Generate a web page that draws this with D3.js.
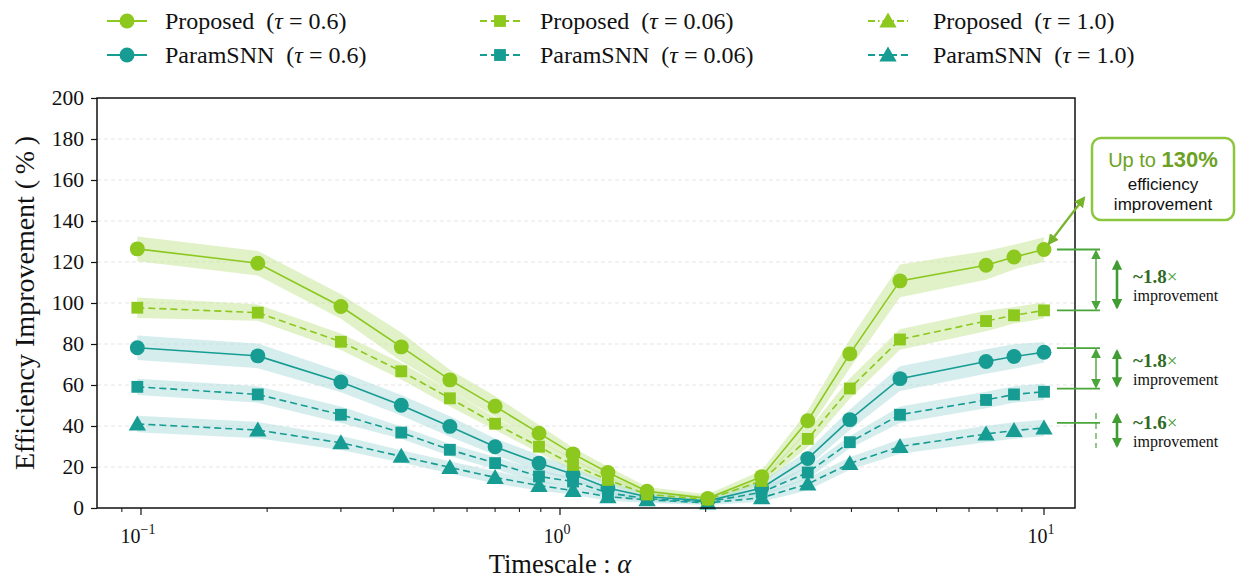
<!DOCTYPE html>
<html>
<head>
<meta charset="utf-8">
<script src="https://cdn.jsdelivr.net/npm/d3@7"></script>
<style>
  html, body { margin: 0; padding: 0; background: #fff; }
  svg { display: block; }
</style>
</head>
<body>
<div id="chart"></div>
<script>
// timescale values (x)
const alpha = [0.098, 0.19, 0.30, 0.418, 0.546, 0.70, 0.891, 1.064, 1.256, 1.513, 2.02, 2.61, 3.25, 3.97, 5.04, 7.59, 8.67, 10.0]

// efficiency improvement (%) per series
const proposedTau06 = [126.4, 119.4, 98.3, 78.6, 62.5, 49.6, 36.5, 26.4, 17.3, 8.2, 4.7, 15.3, 42.6, 75.2, 110.8, 118.4, 122.4, 126.1]
const proposedTau006 = [97.7, 95.3, 81.1, 66.7, 53.5, 41.1, 29.9, 21.0, 13.7, 6.6, 4.2, 13.2, 33.7, 58.3, 82.2, 91.2, 94.0, 96.4]
const proposedTau10 = [] // in the legend only, not drawn in the plot
const paramTau06 = [78.2, 74.2, 61.5, 50.1, 39.8, 29.9, 21.9, 16.5, 9.8, 5.5, 3.5, 9.8, 24.1, 43.1, 63.1, 71.5, 73.9, 76.0]
const paramTau006 = [59.1, 55.4, 45.5, 36.8, 28.4, 21.9, 15.4, 12.9, 7.4, 4.5, 3.0, 7.7, 17.3, 32.1, 45.5, 52.7, 55.4, 56.7]
const paramTau10 = [41.0, 38.0, 31.8, 25.2, 19.8, 14.9, 11.0, 8.5, 5.5, 4.0, 2.5, 5.0, 11.7, 21.7, 30.0, 36.1, 37.8, 39.0]

// spread of the shaded bands (+/-)
const errProposedTau06 = [6, 6, 6, 7, 5, 5, 4, 3, 3, 2, 2, 3, 5, 7, 8, 7, 6, 6]
const errProposedTau006 = [5, 4, 4, 4, 4, 3, 3, 3, 2, 2, 1.5, 2, 4, 5, 5, 5, 4, 4]
const errParamTau06 = [6, 6, 5, 5, 5, 4, 4, 3, 3, 2, 1.5, 3, 4, 5, 6, 6, 6, 5]
const errParamTau006 = [4, 4, 4, 3, 3, 3, 3, 2, 2, 1.5, 1, 2, 3, 3, 4, 4, 4, 4]
const errParamTau10 = [4, 4, 3.5, 3, 3, 3, 2.5, 2, 2, 1.5, 1, 2, 3, 3, 3.5, 4, 4, 4]

const yTicks = [0, 20, 40, 60, 80, 100, 120, 140, 160, 180, 200]
const xMajorTicks = [0.1, 1, 10]
const xMinorTicks = [0.09, 0.2, 0.3, 0.4, 0.5, 0.6, 0.7, 0.8, 0.9, 2, 3, 4, 5, 6, 7, 8, 9]
const xTickLabels = ['\u22121', '0', '1']

// annotation ratios on the right
const ratioLabels = ['~1.8\u00d7', '~1.8\u00d7', '~1.6\u00d7']

const green = '#8cc81e'
const teal = '#169c92'

const series = [
  { name: 'Proposed', tau: '0.6', values: proposedTau06, err: errProposedTau06, color: green, band: '#c9e59a', marker: 'circle', dash: null },
  { name: 'ParamSNN', tau: '0.6', values: paramTau06, err: errParamTau06, color: teal, band: '#b4dfe0', marker: 'circle', dash: null },
  { name: 'Proposed', tau: '0.06', values: proposedTau006, err: errProposedTau006, color: green, band: '#c9e59a', marker: 'square', dash: '7,4' },
  { name: 'ParamSNN', tau: '0.06', values: paramTau006, err: errParamTau006, color: teal, band: '#b4dfe0', marker: 'square', dash: '7,4' },
  { name: 'Proposed', tau: '1.0', values: proposedTau10, err: [], color: green, band: '#c9e59a', marker: 'triangle', dash: '7,3,1.5,3' },
  { name: 'ParamSNN', tau: '1.0', values: paramTau10, err: errParamTau10, color: teal, band: '#b4dfe0', marker: 'triangle', dash: '7,4' },
]

const W = 1237
const H = 579
const serif = '"Liberation Serif", "Times New Roman", serif'
const sans = '"Liberation Sans", Arial, sans-serif'

const svg = d3.select('#chart').append('svg')
  .attr('width', W)
  .attr('height', H)
  .attr('viewBox', `0 0 ${W} ${H}`)

// x is log, but the decades in the picture are not the same width
const xScale = d3.scaleLog()
  .domain([0.0785, 0.1, 1, 10, 11.6])
  .range([97, 141, 560, 1044, 1075])
const yScale = d3.scaleLinear().domain([0, 200]).range([508, 98])

const plotLeft = xScale(0.0785)
const plotRight = xScale(11.6)

// grid
svg.append('g')
  .selectAll('line')
  .data(yTicks.filter((d) => d > 0 && d < 200))
  .join('line')
  .attr('x1', plotLeft)
  .attr('x2', plotRight)
  .attr('y1', (d) => yScale(d))
  .attr('y2', (d) => yScale(d))
  .attr('stroke', '#dedede')
  .attr('stroke-width', 0.8)
  .attr('stroke-dasharray', '4,3')

// bands
const area = (s) => d3.area()
  .x((d, i) => xScale(alpha[i]))
  .y0((d, i) => yScale(d - s.err[i]))
  .y1((d, i) => yScale(d + s.err[i]))

const bandOrder = [series[0], series[2], series[1], series[3], series[5]]
bandOrder.forEach((s) => {
  svg.append('path')
    .datum(s.values)
    .attr('fill', s.band)
    .attr('fill-opacity', 0.55)
    .attr('d', area(s))
})

// lines
const line = d3.line()
  .x((d, i) => xScale(alpha[i]))
  .y((d) => yScale(d))

const drawOrder = [series[5], series[3], series[1], series[2], series[0]]
drawOrder.forEach((s) => {
  svg.append('path')
    .datum(s.values)
    .attr('fill', 'none')
    .attr('stroke', s.color)
    .attr('stroke-width', 1.6)
    .attr('stroke-dasharray', s.dash)
    .attr('d', line)
})

// markers
const symbolFor = (m, size) => {
  if (m === 'circle') return d3.symbol(d3.symbolCircle, size)()
  if (m === 'square') return d3.symbol(d3.symbolSquare, size)()
  return d3.symbol(d3.symbolTriangle, size)()
}
const markerSize = { circle: 175, square: 140, triangle: 130 }

drawOrder.forEach((s) => {
  svg.append('g')
    .selectAll('path')
    .data(s.values)
    .join('path')
    .attr('transform', (d, i) => `translate(${xScale(alpha[i])},${yScale(d) + (s.marker === 'triangle' ? 1.5 : 0)})`)
    .attr('d', symbolFor(s.marker, markerSize[s.marker]))
    .attr('fill', s.color)
})

// frame
svg.append('rect')
  .attr('x', plotLeft)
  .attr('y', yScale(200))
  .attr('width', plotRight - plotLeft)
  .attr('height', yScale(0) - yScale(200))
  .attr('fill', 'none')
  .attr('stroke', '#111')
  .attr('stroke-width', 1.5)

// y axis
const yAxis = svg.append('g')
  .attr('transform', `translate(${plotLeft},0)`)
  .call(d3.axisLeft(yScale).tickValues(yTicks).tickSize(6).tickPadding(7))
yAxis.select('.domain').remove()
yAxis.selectAll('.tick line').attr('stroke', '#111').attr('stroke-width', 1.2)
yAxis.selectAll('.tick text')
  .attr('font-family', serif)
  .attr('font-size', 21.5)
  .attr('fill', '#111')

// x axis: minor + major ticks
const xAxisG = svg.append('g').attr('transform', `translate(0,${yScale(0)})`)
xAxisG.selectAll('.minor')
  .data(xMinorTicks)
  .join('line')
  .attr('class', 'minor')
  .attr('x1', (d) => xScale(d))
  .attr('x2', (d) => xScale(d))
  .attr('y1', 0)
  .attr('y2', 4)
  .attr('stroke', '#111')
  .attr('stroke-width', 1)
xAxisG.selectAll('.major')
  .data(xMajorTicks)
  .join('line')
  .attr('class', 'major')
  .attr('x1', (d) => xScale(d))
  .attr('x2', (d) => xScale(d))
  .attr('y1', 0)
  .attr('y2', 7)
  .attr('stroke', '#111')
  .attr('stroke-width', 1.2)

const xLabels = xAxisG.selectAll('.xlab')
  .data(xMajorTicks)
  .join('text')
  .attr('class', 'xlab')
  .attr('x', (d) => xScale(d) - 3)
  .attr('y', 35)
  .attr('text-anchor', 'middle')
  .attr('font-family', serif)
  .attr('font-size', 20)
  .attr('fill', '#111')
xLabels.append('tspan').text('10')
xLabels.append('tspan')
  .attr('dy', -9)
  .attr('font-size', 14)
  .text((d, i) => xTickLabels[i])

// axis titles
svg.append('text')
  .attr('x', 560)
  .attr('y', 573)
  .attr('text-anchor', 'middle')
  .attr('font-family', serif)
  .attr('font-size', 26.5)
  .attr('fill', '#111')
  .html('Timescale : <tspan font-style="italic">\u03b1</tspan>')

svg.append('text')
  .attr('transform', `translate(34,${yScale(100)}) rotate(-90)`)
  .attr('text-anchor', 'middle')
  .attr('font-family', serif)
  .attr('font-size', 28)
  .attr('fill', '#111')
  .text('Efficiency Improvement (\u2009%\u2009)')

// legend
const legendCols = [107, 480, 868]
const legendRows = [21, 55]
const legendTextX = [165, 540, 933]
series.forEach((s, i) => {
  const col = Math.floor(i / 2)
  const row = i % 2
  const g = svg.append('g').attr('transform', `translate(${legendCols[col]},${legendRows[row]})`)
  g.append('line')
    .attr('x1', 0)
    .attr('x2', 40)
    .attr('stroke', s.color)
    .attr('stroke-width', 1.8)
    .attr('stroke-dasharray', s.dash)
  g.append('path')
    .attr('transform', `translate(20,${s.marker === 'triangle' ? 1.5 : 0})`)
    .attr('d', symbolFor(s.marker, markerSize[s.marker]))
    .attr('fill', s.color)
  const t = svg.append('text')
    .attr('x', legendTextX[col])
    .attr('y', legendRows[row] + 8)
    .attr('font-family', serif)
    .attr('font-size', 24)
    .attr('fill', '#111')
    .attr('xml:space', 'preserve')
  t.append('tspan').text(`${s.name}  (`)
  t.append('tspan').attr('font-style', 'italic').text('\u03c4')
  t.append('tspan').text(` = ${s.tau})`)
})

// annotations
const defs = svg.append('defs')
const arrowMarker = (id, color, w) => {
  defs.append('marker')
    .attr('id', id)
    .attr('viewBox', '0 0 10 10')
    .attr('refX', 8)
    .attr('refY', 5)
    .attr('markerWidth', w)
    .attr('markerHeight', w)
    .attr('orient', 'auto-start-reverse')
    .append('path')
    .attr('d', 'M0,0 L10,5 L0,10 Z')
    .attr('fill', color)
}
arrowMarker('arrowLime', '#76b52a', 5)
arrowMarker('arrowGreen', '#3f9d32', 4)
arrowMarker('arrowThin', '#4aa53a', 7)

const lastIdx = alpha.length - 1
const annX = xScale(alpha[lastIdx])

// callout box
svg.append('rect')
  .attr('x', 1092)
  .attr('y', 138)
  .attr('width', 142)
  .attr('height', 82)
  .attr('rx', 9)
  .attr('fill', '#fff')
  .attr('stroke', '#8cc63f')
  .attr('stroke-width', 2.5)
const boxText = svg.append('text')
  .attr('x', 1163)
  .attr('y', 167)
  .attr('text-anchor', 'middle')
  .attr('font-family', sans)
  .attr('font-size', 20)
  .attr('fill', '#6ca224')
boxText.append('tspan').text('Up to ')
boxText.append('tspan').attr('font-weight', 'bold').attr('font-size', 22).text('130%')
svg.append('text')
  .attr('x', 1163).attr('y', 190)
  .attr('text-anchor', 'middle')
  .attr('font-family', sans).attr('font-size', 17).attr('fill', '#111')
  .text('efficiency')
svg.append('text')
  .attr('x', 1163).attr('y', 210)
  .attr('text-anchor', 'middle')
  .attr('font-family', sans).attr('font-size', 17).attr('fill', '#111')
  .text('improvement')

svg.append('line')
  .attr('x1', annX + 5)
  .attr('y1', yScale(proposedTau06[lastIdx]) - 6)
  .attr('x2', 1084)
  .attr('y2', 198)
  .attr('stroke', '#76b52a')
  .attr('stroke-width', 2.2)
  .attr('marker-start', 'url(#arrowLime)')
  .attr('marker-end', 'url(#arrowLime)')

// brackets between series at the last alpha
const pairs = [
  [proposedTau06[lastIdx], proposedTau006[lastIdx]],
  [paramTau06[lastIdx] + 2, paramTau006[lastIdx] + 1.5],
  [paramTau10[lastIdx] + 2.5, null],
]
pairs.forEach((p, i) => {
  const yTop = yScale(p[0])
  const yBot = p[1] === null ? yTop : yScale(p[1])
  const g = svg.append('g')
  g.append('line').attr('x1', 1057).attr('x2', 1100).attr('y1', yTop).attr('y2', yTop)
    .attr('stroke', '#4aa53a').attr('stroke-width', 1.8)
  if (p[1] !== null) {
    g.append('line').attr('x1', 1057).attr('x2', 1100).attr('y1', yBot).attr('y2', yBot)
      .attr('stroke', '#4aa53a').attr('stroke-width', 1.8)
    g.append('line').attr('x1', 1096).attr('x2', 1096).attr('y1', yTop + 2).attr('y2', yBot - 2)
      .attr('stroke', '#4aa53a').attr('stroke-width', 1.4)
      .attr('marker-start', 'url(#arrowThin)')
      .attr('marker-end', 'url(#arrowThin)')
  } else {
    g.append('line').attr('x1', 1096).attr('x2', 1096).attr('y1', yTop - 10).attr('y2', yTop + 25)
      .attr('stroke', '#4aa53a').attr('stroke-width', 1.2)
      .attr('stroke-dasharray', '6,4')
  }
  const arrTop = i === 0 ? yTop + 9 : i === 2 ? yTop - 11 : yTop
  const arrBot = i === 2 ? yTop + 26 : yBot
  g.append('line').attr('x1', 1117).attr('x2', 1117).attr('y1', arrTop + 3).attr('y2', arrBot - 3)
    .attr('stroke', '#3f9d32').attr('stroke-width', 2.6)
    .attr('marker-start', 'url(#arrowGreen)')
    .attr('marker-end', 'url(#arrowGreen)')
  const mid = (arrTop + arrBot) / 2
  const rt = g.append('text')
    .attr('x', 1133).attr('y', mid - 1)
    .attr('font-family', serif).attr('font-size', 19).attr('fill', '#2f6a1f')
  rt.append('tspan').text(ratioLabels[i].slice(0, -1)).attr('font-weight', 'bold')
  rt.append('tspan').text('\u00d7').attr('fill', '#3f9d32')
  g.append('text')
    .attr('x', 1133).attr('y', mid + 17)
    .attr('font-family', serif).attr('font-size', 16).attr('fill', '#111')
    .text('improvement')
})
</script>
</body>
</html>
